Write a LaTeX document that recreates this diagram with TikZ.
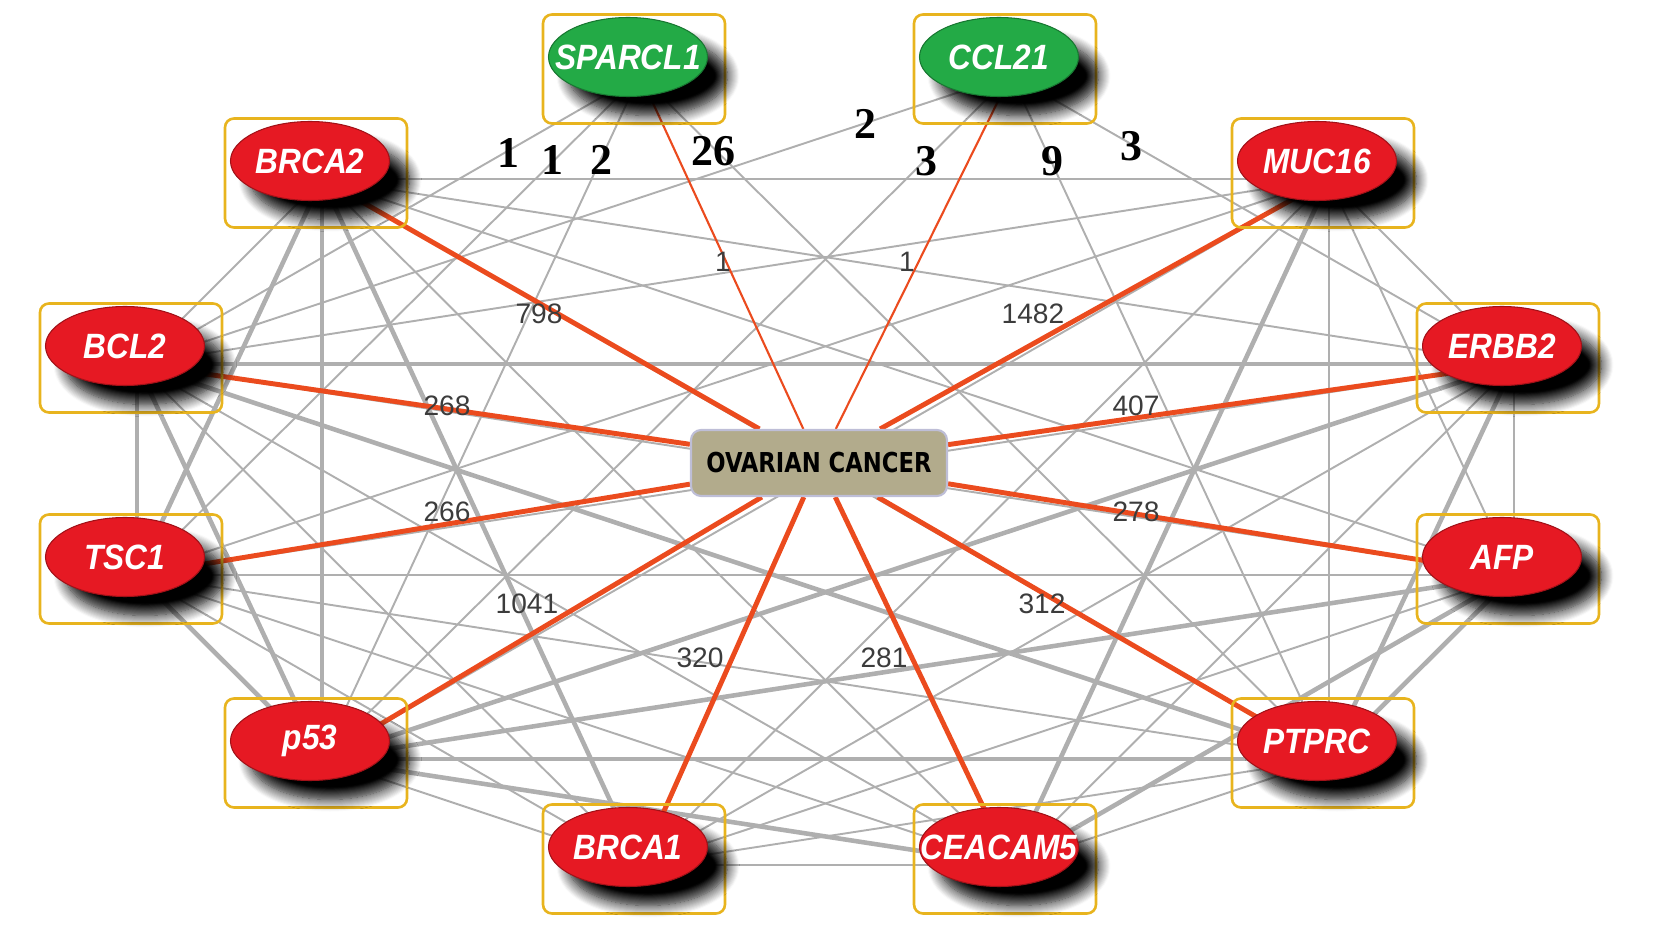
\documentclass[tikz,border=0pt]{standalone}
\usepackage{fontspec}
\setmainfont{Liberation Sans}
\newfontfamily\genefont[FakeStretch=0.9]{Liberation Sans}
\newfontfamily\weightfont{Liberation Serif}
\newfontfamily\hubfont[FakeStretch=0.92]{DejaVu Sans Condensed}
\usepackage{xcolor}
\usepackage{tikz}
\usetikzlibrary{shapes.geometric,shadows.blur,backgrounds}

\definecolor{genered}{RGB}{230,25,35}
\definecolor{genegreen}{RGB}{35,170,70}
\definecolor{boxgold}{RGB}{232,180,30}
\definecolor{linkgray}{RGB}{175,175,175}
\definecolor{huborange}{RGB}{235,75,30}
\definecolor{hubtan}{RGB}{178,171,140}
\definecolor{hubedge}{RGB}{190,190,215}
\definecolor{labelgray}{RGB}{60,60,60}

\begin{document}
\begin{tikzpicture}[x=0.1mm,y=-0.1mm,
  genebox/.style={draw=boxgold,line width=0.75pt,rounded corners=0.9mm,
    minimum width=18.2mm,minimum height=10.9mm,inner sep=0pt},
  gene/.style={ellipse,draw=#1!70!black,fill=#1,line width=0.3pt,
    minimum width=15.9mm,minimum height=7.9mm,inner sep=0pt,
    blur shadow={shadow xshift=2.0mm,shadow yshift=-1.9mm,
      shadow blur radius=1.2mm,shadow blur steps=12,shadow opacity=100}},
  genetext/.style={text=white,inner sep=0pt,
    font=\genefont\bfseries\itshape\fontsize{10}{12}\selectfont},
  hub/.style={rectangle,rounded corners=1mm,fill=hubtan,draw=hubedge,
    line width=0.6pt,minimum width=25.6mm,minimum height=6.6mm,
    font=\hubfont\bfseries\fontsize{7.8}{10}\selectfont},
  link/.style={linkgray,line width=0.55pt},
  thicklink/.style={linkgray,line width=1.3pt},
  hublink/.style={huborange,line width=1.4pt},
  weaklink/.style={huborange,line width=0.6pt},
  wlabel/.style={labelgray,font=\fontsize{8}{9}\selectfont},
  slabel/.style={black,font=\weightfont\bfseries\fontsize{12.5}{14}\selectfont}]

  \useasboundingbox (0,0) rectangle (1654,926);

  % gene nodes: box first, then the ellipse with its shadow
  \foreach \n/\x/\y/\t/\c in {sparcl1/634/69/SPARCL1/genegreen,
      ccl21/1005/69/CCL21/genegreen,
      brca2/316/173/BRCA2/genered, muc16/1323/173/MUC16/genered,
      bcl2/131/358/BCL2/genered, erbb2/1508/358/ERBB2/genered,
      tsc1/131/569/TSC1/genered, afp/1508/569/AFP/genered,
      p53/316/753/p53/genered, ptprc/1323/753/PTPRC/genered,
      brca1/634/859/BRCA1/genered, ceacam5/1005/859/CEACAM5/genered} {
    \node[genebox] (\n-box) at (\x,\y) {};
    \node[gene=\c,label={[genetext]center:\t}] (\n)
      at ([shift={(-6,-12)}]\n-box.center) {};
    \coordinate (\n-pin) at ([shift={(6,6)}]\n-box.center);
  }

  \node[hub] (ovca) at (819,463) {OVARIAN CANCER};

  \begin{scope}[on background layer]
    % gene-gene links
    \foreach \a/\b in {brca2/muc16, brca2/erbb2, brca2/bcl2, brca2/afp,
        brca2/ptprc, brca2/ceacam5,
        muc16/bcl2, muc16/erbb2, muc16/tsc1, muc16/afp, muc16/p53,
        muc16/ptprc, muc16/brca1,
        bcl2/afp, bcl2/brca1, bcl2/ceacam5,
        erbb2/tsc1, erbb2/afp, erbb2/brca1, erbb2/ceacam5,
        tsc1/afp, tsc1/ptprc, tsc1/brca1, tsc1/ceacam5,
        afp/brca1, p53/brca1,
        ptprc/brca1, ptprc/ceacam5, brca1/ceacam5}
      \draw[link] (\a-pin) -- (\b-pin);
    \foreach \a/\b in {bcl2/erbb2, p53/ptprc, brca2/p53, brca2/tsc1,
        brca2/brca1, bcl2/ptprc, bcl2/p53, tsc1/p53, bcl2/tsc1,
        p53/erbb2, p53/afp, p53/ceacam5, muc16/ceacam5, afp/ceacam5,
        afp/ptprc, erbb2/ptprc}
      \draw[thicklink] (\a-pin) -- (\b-pin);
    % green genes
    \foreach \a/\b in {sparcl1/bcl2, sparcl1/tsc1, sparcl1/p53,
        sparcl1/ptprc, ccl21/bcl2, ccl21/p53, ccl21/ptprc, ccl21/erbb2}
      \draw[link] (\a-pin) -- (\b-pin);
    % links to the disease
    \foreach \n in {brca2,muc16,bcl2,erbb2,tsc1,afp,p53,ptprc,brca1,ceacam5}
      \draw[hublink] (\n-pin) -- (ovca);
    \draw[weaklink] (sparcl1-pin) -- (ovca);
    \draw[weaklink] (ccl21-pin) -- (ovca);
  \end{scope}

  % weights of the green genes
  \node[slabel] at (508,153) {1};
  \node[slabel] at (552,160) {1};
  \node[slabel] at (601,160) {2};
  \node[slabel] at (713,151) {26};
  \node[slabel] at (865,124) {2};
  \node[slabel] at (926,161) {3};
  \node[slabel] at (1052,161) {9};
  \node[slabel] at (1131,146) {3};

  % weights to the disease
  \node[wlabel] at (723,262) {1};
  \node[wlabel] at (907,262) {1};
  \node[wlabel] at (539,314) {798};
  \node[wlabel] at (1033,314) {1482};
  \node[wlabel] at (447,406) {268};
  \node[wlabel] at (1136,406) {407};
  \node[wlabel] at (447,512) {266};
  \node[wlabel] at (1136,512) {278};
  \node[wlabel] at (527,604) {1041};
  \node[wlabel] at (1042,604) {312};
  \node[wlabel] at (700,658) {320};
  \node[wlabel] at (884,658) {281};
\end{tikzpicture}
\end{document}
